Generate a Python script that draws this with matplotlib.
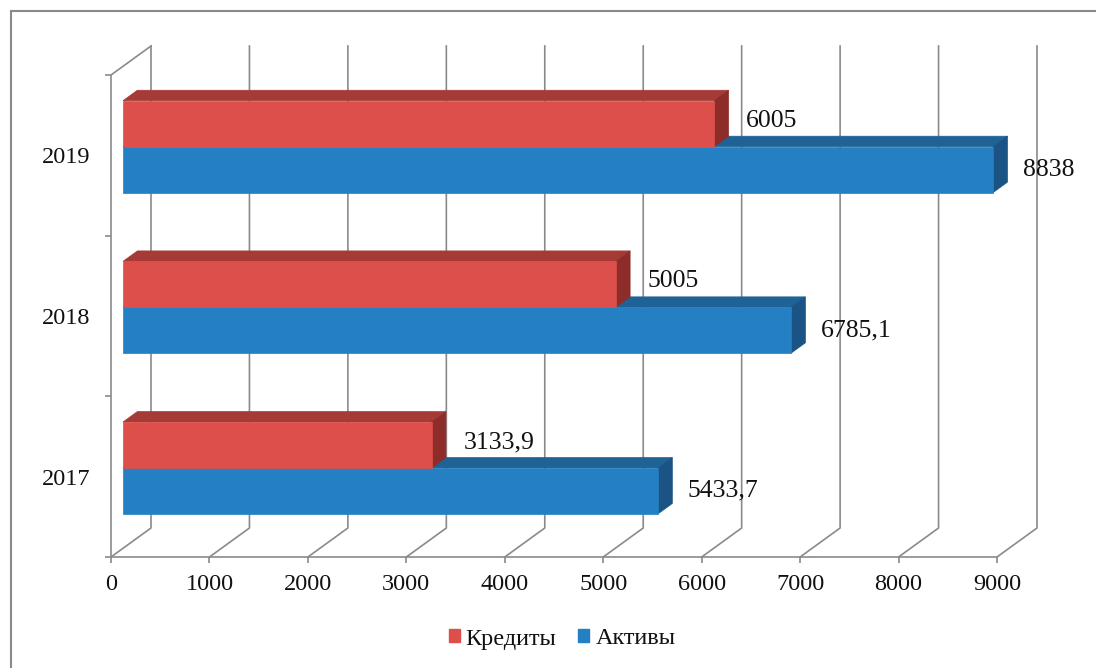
import matplotlib
matplotlib.use('Agg')
import matplotlib.pyplot as plt
import matplotlib.transforms as mtransforms
from matplotlib.patches import Polygon, Rectangle, Patch
from matplotlib.lines import Line2D

# ---- data ----
years = ['2017', '2018', '2019']
credits = [3133.9, 5005, 6005]
assets = [5433.7, 6785.1, 8838]
credit_labels = ['3133,9', '5005', '6005']
asset_labels = ['5433,7', '6785,1', '8838']
series_names = ['Кредиты', 'Активы']
x_ticks = list(range(0, 10000, 1000))

# ---- style ----
plt.rcParams['font.family'] = ['Liberation Serif', 'DejaVu Serif']
RED = ['#DD4F4A', '#A53A36', '#8E2C2A']   # front, top, side
BLUE = ['#2480C2', '#1F6295', '#1A5384']
GRID = '#8A8A8A'
TXT = '#111111'

W, H = 1096, 668
fig = plt.figure(figsize=(W / 100, H / 100), dpi=100)
ax = fig.add_axes([111 / W, 1 - 557 / H, (997 - 111) / W, (557 - 75) / H])
ax.set_xlim(0, 9000)
ax.set_ylim(-0.5, 2.5)
ax.patch.set_visible(False)
for s in ax.spines.values():
    s.set_visible(False)

IDT = mtransforms.IdentityTransform()
DX, DY = 40, 29          # full depth offset in pixels
D0, D1 = 0.30, 0.66      # bar depth range
BH = 0.286               # bar height (category units)


def P(x, y, d):
    X, Y = ax.transData.transform((x, y))
    return (X + DX * d, Y + DY * d)


def line(pts, z=1):
    ax.add_line(Line2D([p[0] for p in pts], [p[1] for p in pts], transform=IDT,
                       color=GRID, lw=1.2, clip_on=False, zorder=z))


# walls / grid
for xv in x_ticks:
    line([P(xv, -0.5, 0), P(xv, -0.5, 1), P(xv, 2.5, 1)])
line([P(0, -0.5, 0), P(x_ticks[-1], -0.5, 0)])
line([P(0, -0.5, 0), P(0, 2.5, 0), P(0, 2.5, 1)])


def bar(v, y0, y1, cols):
    front = [P(0, y0, D0), P(v, y0, D0), P(v, y1, D0), P(0, y1, D0)]
    top = [P(0, y1, D0), P(v, y1, D0), P(v, y1, D1), P(0, y1, D1)]
    side = [P(v, y0, D0), P(v, y0, D1), P(v, y1, D1), P(v, y1, D0)]
    for poly, c in ((top, cols[1]), (side, cols[2]), (front, cols[0])):
        ax.add_patch(Polygon(poly, closed=True, transform=IDT, fc=c, ec=c,
                             lw=0.5, clip_on=False, zorder=3))


for i in range(len(years)):
    bar(assets[i], i - BH, i, BLUE)
    bar(credits[i], i, i + BH, RED)
    ax.annotate(credit_labels[i], xy=(credits[i], i + BH / 2), xytext=(DX * D0 + 32, DY * D0 + 3),
                textcoords='offset pixels', ha='left', va='center', fontsize=18.5, color=TXT,
                annotation_clip=False, zorder=5)
    ax.annotate(asset_labels[i], xy=(assets[i], i - BH / 2), xytext=(DX * D0 + 30, DY * D0),
                textcoords='offset pixels', ha='left', va='center', fontsize=18.5, color=TXT,
                annotation_clip=False, zorder=5)

# ticks
ax.set_xticks(x_ticks)
ax.set_xticklabels([str(t) for t in x_ticks])
ax.tick_params(axis='x', length=4, width=1.2, color=GRID, pad=8, labelsize=17.5, labelcolor=TXT)
ax.set_yticks([-0.5, 0.5, 1.5, 2.5])
ax.set_yticklabels([])
ax.tick_params(axis='y', which='major', length=4, width=1.2, color=GRID)
ax.set_yticks([0, 1, 2], minor=True)
ax.set_yticklabels(years, minor=True)
ax.tick_params(axis='y', which='minor', length=0, pad=15, labelsize=17.5, labelcolor=TXT)

# outer border
fig.add_artist(Rectangle((11, -50), 1300, (H - 11) + 50, transform=IDT, fill=False,
                         ec='#8A8A8A', lw=1.5))

# legend
handles = [Patch(fc=RED[0], ec=RED[0]), Patch(fc=BLUE[0], ec=BLUE[0])]
fig.legend(handles, series_names, loc='center', bbox_to_anchor=(562 / W, 1 - 639 / H),
           ncol=2, frameon=False, fontsize=17.5, handlelength=0.45, handleheight=0.45,
           handletextpad=0.25, columnspacing=0.9, labelcolor=TXT)

fig.savefig('out.png', dpi=100)
